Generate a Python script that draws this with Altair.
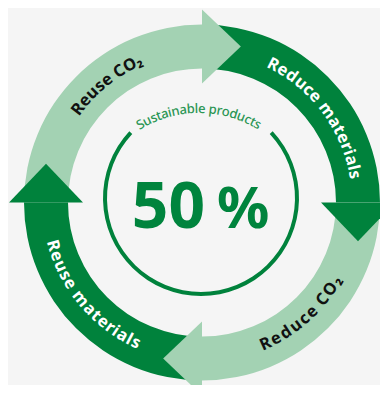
import altair as alt
import pandas as pd

# ---------------- data ----------------
segment_names = ["Reuse CO₂", "Reduce materials", "Reduce CO₂", "Reuse materials"]
segment_start = [270, 0, 90, 180]          # degrees, clockwise from 12 o'clock
segment_end = [360, 90, 180, 270]
segment_tone = ["light", "dark", "light", "dark"]
label_start = [307, 27.3, 155.8, 253.9]    # angle of first character
label_end = [336, 79.7, 120.0, 205.3]      # angle of last character
center_value = "50"
center_unit = "%"
caption = "Sustainable products"

# ---------------- style ----------------
DARK = "#00823c"
LIGHT = "#a3d2b3"
CAPTION_GREEN = "#2b9654"
BG = "#f5f5f5"
tone_color = {"light": LIGHT, "dark": DARK}
label_color = {"light": "#111111", "dark": "#ffffff"}

W, H = 372, 377
CX, CY = 202, 202.5          # ring centre in page pixels
ox, oy = CX - 8, CY - 8
xs = alt.Scale(domain=[-ox, W - ox], nice=False, zero=False)
ys = alt.Scale(domain=[-(H - oy), oy], nice=False, zero=False)
ts = alt.Scale(domain=[0, 360], range=[0, 6.283185307179586])
rs = alt.Scale(type="linear", domain=[0, 200], range=[0, 200], zero=True)

R_IN, R_OUT, R_MID = 134, 178, 156

# ---------------- arcs (bands + inner ring) ----------------
arc_rows = []
for s, e, t in zip(segment_start, segment_end, segment_tone):
    arc_rows.append(dict(cx=0, cy=0, a0=s, a1=e, r0=R_OUT, r1=R_IN, fill=tone_color[t]))
arc_rows.append(dict(cx=-1, cy=4.5, a0=47, a1=313, r0=98, r1=94, fill=DARK))
arc_df = pd.DataFrame(arc_rows)

arcs = alt.Chart(arc_df).mark_arc().encode(
    x=alt.X("cx:Q", scale=xs, axis=None),
    y=alt.Y("cy:Q", scale=ys, axis=None),
    theta=alt.Theta("a0:Q", scale=ts, stack=None),
    theta2=alt.Theta2("a1:Q"),
    radius=alt.Radius("r0:Q", scale=rs),
    radius2=alt.Radius2("r1:Q"),
    color=alt.Color("fill:N", scale=None),
)

# ---------------- arrow heads ----------------
head_df = pd.DataFrame(dict(
    ang=[e % 360 for e in segment_end],
    r=[R_MID] * 4,
    cx=[0] * 4,
    cy=[0] * 4,
    fill=[tone_color[t] for t in segment_tone],
))
heads = alt.Chart(head_df).transform_calculate(
    px="datum.cx + datum.r * sin(datum.ang * PI / 180)",
    py="datum.cy + datum.r * cos(datum.ang * PI / 180)",
).mark_point(shape="M0,-1L1.05,0L0,1Z", filled=True, opacity=1, size=74 * 74, strokeWidth=0).encode(
    x=alt.X("px:Q", scale=xs, axis=None),
    y=alt.Y("py:Q", scale=ys, axis=None),
    color=alt.Color("fill:N", scale=None),
    angle=alt.Angle("ang:Q", scale=None),
)

# ---------------- curved text ----------------
BOLD_W = {"R": .66, "e": .59, "u": .66, "s": .51, " ": .26, "C": .63, "O": .79, "₂": .38,
          "d": .66, "c": .51, "m": .99, "a": .61, "t": .44, "r": .45, "i": .31, "l": .31}
REG_W = {"S": .55, "u": .62, "s": .48, "t": .36, "a": .56, "i": .26, "n": .62, "b": .61,
         "l": .26, "e": .56, " ": .26, "p": .61, "r": .41, "o": .6, "d": .61, "c": .48}


def layout(text, a_first, a_last, r, cx, cy, color, widths):
    w = [widths.get(ch, .55) for ch in text]
    centers = []
    acc = 0
    for wi in w:
        centers.append(acc + wi / 2)
        acc += wi
    span = centers[-1] - centers[0]
    flip = a_last < a_first
    rows = []
    for ch, c in zip(text, centers):
        a = a_first + (a_last - a_first) * (c - centers[0]) / span
        rot = (a + 180) % 360 if flip else a % 360
        rows.append(dict(ch=ch, ang=a, r=r, cx=cx, cy=cy, rot=rot, col=color))
    return rows


lab_rows = []
for name, a0, a1, t in zip(segment_names, label_start, label_end, segment_tone):
    lab_rows += layout(name, a0, a1, R_MID - 1, 0, 0, label_color[t], BOLD_W)
lab_df = pd.DataFrame(lab_rows)

cap_df = pd.DataFrame(layout(caption, -30, 30, 117, -3, -23.5, CAPTION_GREEN, REG_W))


def curved(df, size, weight):
    return alt.Chart(df).transform_calculate(
        px="datum.cx + datum.r * sin(datum.ang * PI / 180)",
        py="datum.cy + datum.r * cos(datum.ang * PI / 180)",
    ).mark_text(font="Noto Sans", fontSize=size, fontWeight=weight, align="center",
                baseline="middle").encode(
        x=alt.X("px:Q", scale=xs, axis=None),
        y=alt.Y("py:Q", scale=ys, axis=None),
        text="ch:N",
        angle=alt.Angle("rot:Q", scale=None),
        color=alt.Color("col:N", scale=None),
    )


labels = curved(lab_df, 16.5, "bold")
cap = curved(cap_df, 13, 500)

# ---------------- centre value ----------------
val_df = pd.DataFrame(dict(t=[center_value], px=[3], py=[-25.5]))
unit_df = pd.DataFrame(dict(t=[center_unit], px=[15], py=[-25.5]))
val = alt.Chart(val_df).mark_text(font="Noto Sans", fontSize=64, fontWeight="bold", align="right",
                                  baseline="alphabetic", color="#00843d").encode(
    x=alt.X("px:Q", scale=xs, axis=None), y=alt.Y("py:Q", scale=ys, axis=None), text="t:N")
unit = alt.Chart(unit_df).mark_text(font="Noto Sans", fontSize=58, fontWeight="bold", align="left",
                                    baseline="alphabetic", color="#00843d").encode(
    x=alt.X("px:Q", scale=xs, axis=None), y=alt.Y("py:Q", scale=ys, axis=None), text="t:N")

chart = alt.layer(arcs, heads, labels, cap, val, unit).properties(
    width=W, height=H, padding=0, autosize="none", background=BG
).configure_view(stroke=None)

chart.save("out.html", embed_options={"renderer": "svg", "actions": False})
